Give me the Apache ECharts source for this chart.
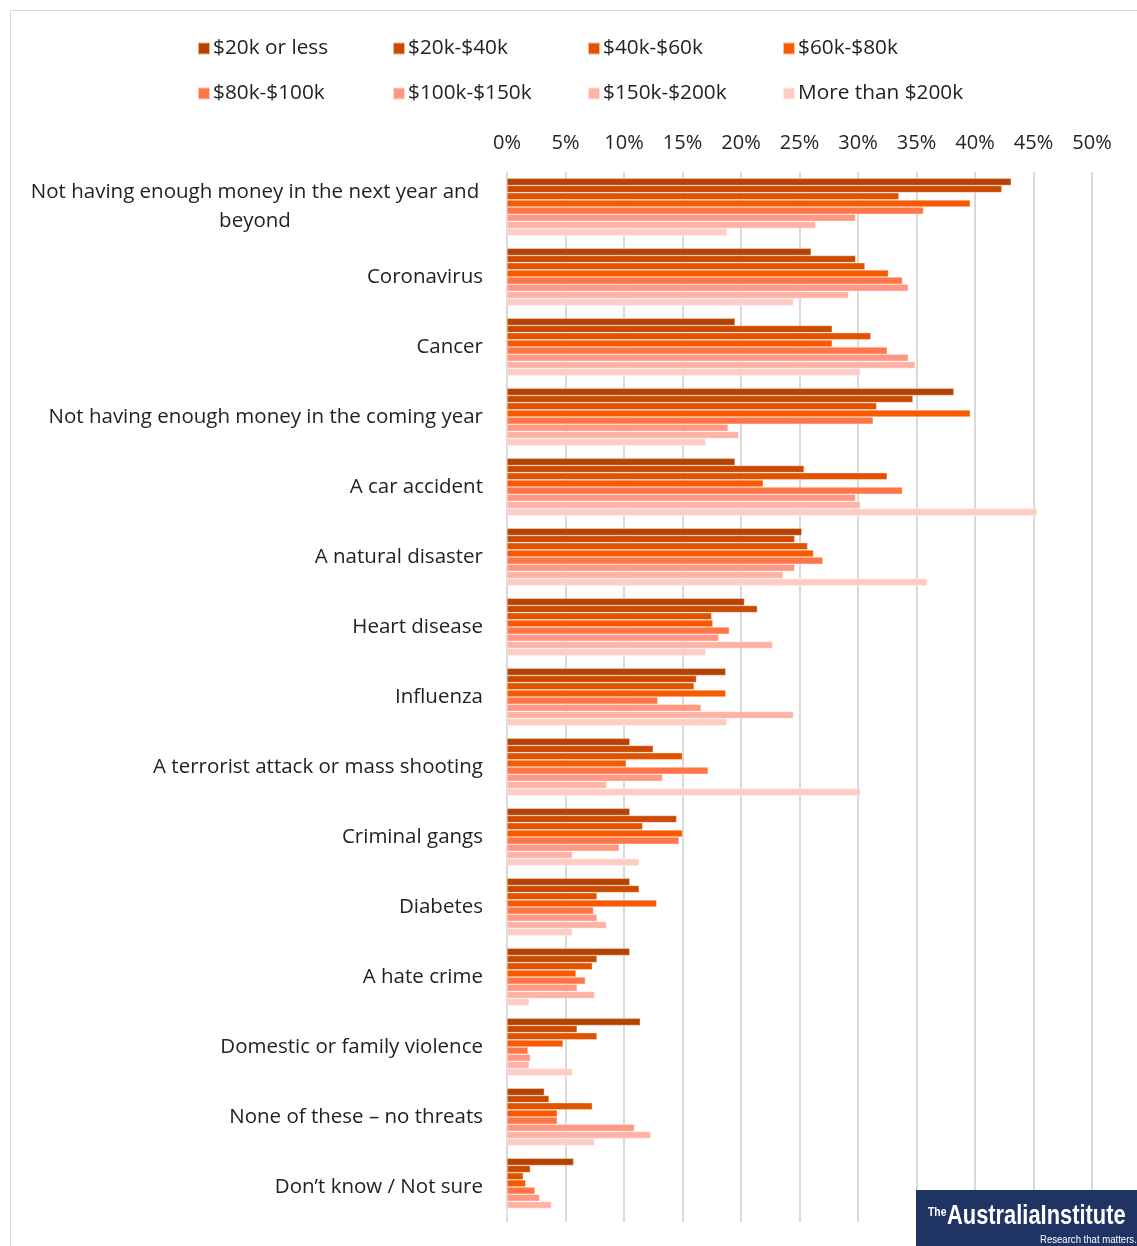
<!DOCTYPE html>
<html><head><meta charset="utf-8">
<script src="https://cdn.jsdelivr.net/npm/echarts@6/dist/echarts.min.js"></script>
<style>html,body{margin:0;padding:0;background:#fff}#c{width:1137px;height:1246px}</style>
</head><body><div id="c"></div>
<script>
const categories = [
  'Not having enough money in the next year and beyond',
  'Coronavirus',
  'Cancer',
  'Not having enough money in the coming year',
  'A car accident',
  'A natural disaster',
  'Heart disease',
  'Influenza',
  'A terrorist attack or mass shooting',
  'Criminal gangs',
  'Diabetes',
  'A hate crime',
  'Domestic or family violence',
  'None of these \u2013 no threats',
  'Don\u2019t know / Not sure'
];
const seriesNames = ['$20k or less','$20k-$40k','$40k-$60k','$60k-$80k','$80k-$100k','$100k-$150k','$150k-$200k','More than $200k'];
const colors = ['#B54200','#CC4900','#E25300','#F95A00','#FF7548','#FF9782','#FFB3A6','#FFCCC5'];
const s20kOrLess = [43.1, 26.0, 19.5, 38.2, 19.5, 25.2, 20.3, 18.7, 10.5, 10.5, 10.5, 10.5, 11.4, 3.2, 5.7];
const s20k40k    = [42.3, 29.8, 27.8, 34.7, 25.4, 24.6, 21.4, 16.2, 12.5, 14.5, 11.3, 7.7, 6.0, 3.6, 2.0];
const s40k60k    = [33.5, 30.6, 31.1, 31.6, 32.5, 25.7, 17.5, 16.0, 15.0, 11.6, 7.7, 7.3, 7.7, 7.3, 1.4];
const s60k80k    = [39.6, 32.6, 27.8, 39.6, 21.9, 26.2, 17.6, 18.7, 10.2, 15.0, 12.8, 5.9, 4.8, 4.3, 1.6];
const s80k100k   = [35.6, 33.8, 32.5, 31.3, 33.8, 27.0, 19.0, 12.9, 17.2, 14.7, 7.4, 6.7, 1.8, 4.3, 2.4];
const s100k150k  = [29.8, 34.3, 34.3, 18.9, 29.8, 24.6, 18.1, 16.6, 13.3, 9.6, 7.7, 6.0, 2.0, 10.9, 2.8];
const s150k200k  = [26.4, 29.2, 34.9, 19.8, 30.2, 23.6, 22.7, 24.5, 8.5, 5.6, 8.5, 7.5, 1.9, 12.3, 3.8];
const sOver200k  = [18.8, 24.5, 30.2, 17.0, 45.3, 35.9, 17.0, 18.8, 30.2, 11.3, 5.6, 1.9, 5.6, 7.5, 0];
const seriesData = [s20kOrLess, s20k40k, s40k60k, s60k80k, s80k100k, s100k150k, s150k200k, sOver200k];
const xTicks = {min: 0, max: 50, interval: 5};

const FONT = 'Open Sans';
const FS = 20.5;
const chart = echarts.init(document.getElementById('c'));

const legends = seriesNames.map((n, i) => ({
  data: [n],
  left: 192 + (i % 4) * 195,
  top: i < 4 ? 33 : 78,
  icon: 'rect', itemWidth: 12, itemHeight: 12, itemGap: 0,
  textStyle: {fontFamily: FONT, fontSize: 20.8, color: '#222', padding: [0,0,0,-2]},
  selectedMode: false
}));

chart.setOption({
  animation: false,
  backgroundColor: '#fff',
  textStyle: {fontFamily: FONT},
  legend: legends,
  grid: {left: 507, right: 45, top: 172, bottom: 24, containLabel: false},
  xAxis: {
    type: 'value', position: 'top',
    min: xTicks.min, max: xTicks.max, interval: xTicks.interval,
    axisLine: {show: false}, axisTick: {show: false},
    axisLabel: {formatter: '{value}%', fontFamily: FONT, fontSize: 20, color: '#222', margin: 19},
    splitLine: {show: true, lineStyle: {color: '#D9D9D9', width: 2}}
  },
  yAxis: {
    type: 'category', inverse: true, data: categories,
    axisLine: {show: false}, axisTick: {show: false},
    axisLabel: {
      fontFamily: FONT, fontSize: FS, color: '#222', margin: 24, lineHeight: 29,
      formatter: function (v) {
        if (v.length > 45) {
          const cut = v.lastIndexOf(' ', 45);
          return '{c|' + v.slice(0, cut) + '}\n{c|' + v.slice(cut + 1) + '}';
        }
        return v;
      },
      rich: {c: {width: 456, align: 'center', fontFamily: FONT, fontSize: FS, color: '#222', lineHeight: 29}}
    }
  },
  series: seriesNames.map((n, i) => ({
    name: n, type: 'bar', data: seriesData[i],
    barGap: '0%', barCategoryGap: '18%',
    itemStyle: {color: colors[i], borderColor: 'rgba(255,255,255,0.6)', borderWidth: 0.6}
  })),
  graphic: [
    {type: 'rect', shape: {x: 10.5, y: 10.5, width: 1140, height: 1260}, style: {fill: 'none', stroke: '#D9D9D9', lineWidth: 1}, silent: true},
    {type: 'rect', shape: {x: 916, y: 1190, width: 221, height: 56}, style: {fill: '#1F3465'}, z: 100},
    {type: 'text', x: 928, y: 1206, scaleX: 0.8, style: {text: 'The', fill: '#fff', fontSize: 13, fontFamily: 'Liberation Sans', fontWeight: 'bold'}, z: 101},
    {type: 'text', x: 947, y: 1203, scaleX: 0.81, style: {text: 'AustraliaInstitute', fill: '#fff', fontSize: 27, fontFamily: 'Liberation Sans', fontWeight: 'bold'}, z: 101},
    {type: 'text', x: 1040, y: 1234, scaleX: 0.87, style: {text: 'Research that matters.', fill: '#fff', fontSize: 11, fontFamily: 'Liberation Sans'}, z: 101}
  ]
});
</script></body></html>
